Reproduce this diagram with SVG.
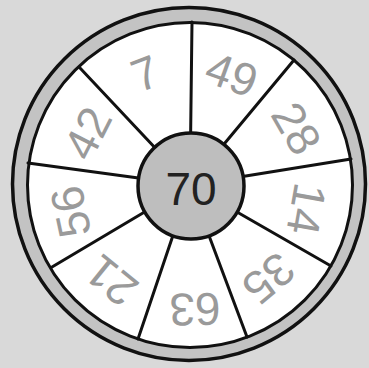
<svg xmlns="http://www.w3.org/2000/svg" width="369" height="368" viewBox="0 0 369 368">
  <style>
    .ring { fill: #c3c3c3; stroke: #111; stroke-width: 3.5; }
    .face { fill: #ffffff; stroke: #111; stroke-width: 3; }
    .spoke { stroke: #111; stroke-width: 3; stroke-linecap: round; }
    .hub { fill: #bebebe; stroke: #111; stroke-width: 3.5; }
    .num { font-family: "Liberation Sans", Arial, sans-serif; font-size: 46px; fill: #9a9a9a; text-anchor: middle; }
    .hubtext { font-family: "Liberation Sans", Arial, sans-serif; font-size: 46px; fill: #222; text-anchor: middle; }
  </style>
  <rect x="0" y="0" width="369" height="368" fill="#d9d9d9"/>
  <g id="wheel">
    <circle class="ring" cx="189" cy="184" r="176.5"/>
    <circle class="face" cx="190" cy="185" r="162.5"/>
  </g>
  <g id="connectors">
    <line class="spoke" x1="190" y1="185" x2="192" y2="22"/>
    <line class="spoke" x1="190" y1="185" x2="294" y2="60"/>
    <line class="spoke" x1="190" y1="185" x2="351" y2="159"/>
    <line class="spoke" x1="190" y1="185" x2="331" y2="266"/>
    <line class="spoke" x1="190" y1="185" x2="247" y2="337"/>
    <line class="spoke" x1="190" y1="185" x2="138" y2="339"/>
    <line class="spoke" x1="190" y1="185" x2="52" y2="267"/>
    <line class="spoke" x1="190" y1="185" x2="28" y2="163"/>
    <line class="spoke" x1="190" y1="185" x2="80" y2="68"/>
  </g>
  <g id="hub">
    <circle class="hub" cx="191" cy="186" r="53"/>
    <text class="hubtext" x="191" y="205">70</text>
  </g>
  <g id="s7"><text class="num" transform="translate(145,73) rotate(-21)" dy="0.36em">7</text></g>
  <g id="s49"><text class="num" transform="translate(232,74) rotate(20)" dy="0.36em">49</text></g>
  <g id="s28"><text class="num" transform="translate(297,128) rotate(60)" dy="0.36em">28</text></g>
  <g id="s14"><text class="num" transform="translate(307,209) rotate(100)" dy="0.36em">14</text></g>
  <g id="s35"><text class="num" transform="translate(269,279) rotate(140)" dy="0.36em">35</text></g>
  <g id="s63"><text class="num" transform="translate(195,310) rotate(179)" dy="0.36em">63</text></g>
  <g id="s21"><text class="num" transform="translate(111,281) rotate(219)" dy="0.36em">21</text></g>
  <g id="s56"><text class="num" transform="translate(70,212) rotate(258)" dy="0.36em">56</text></g>
  <g id="s42"><text class="num" transform="translate(87,133) rotate(-63)" dy="0.36em">42</text></g>
</svg>
